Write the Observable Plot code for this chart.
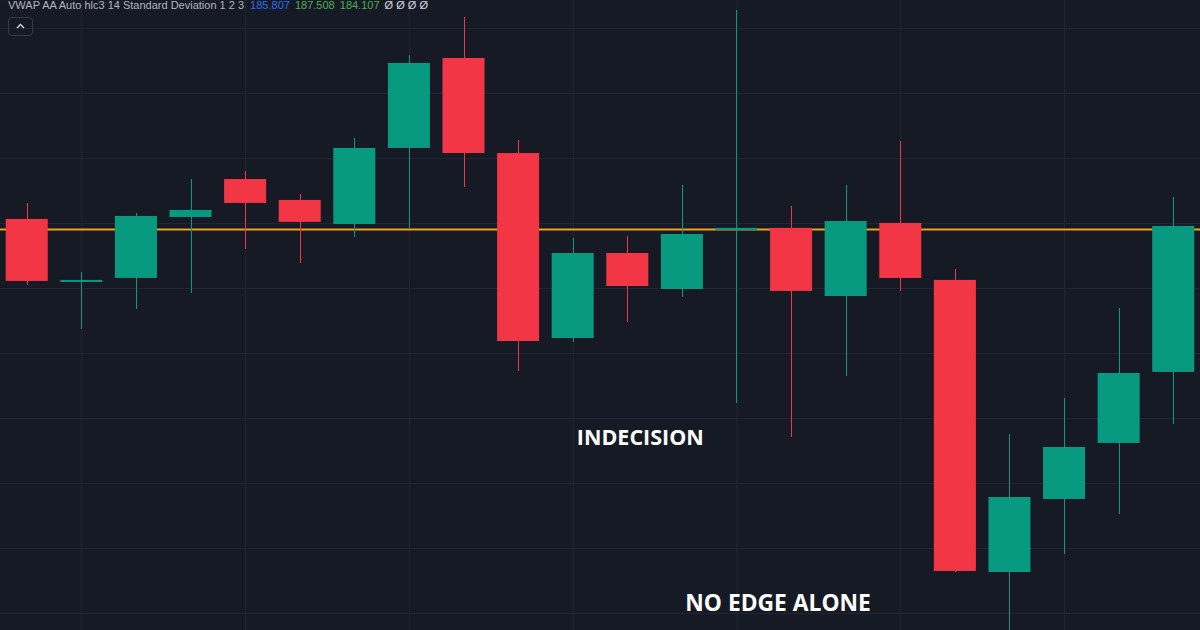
<!DOCTYPE html>
<html>
<head>
<meta charset="utf-8">
<script src="https://cdn.jsdelivr.net/npm/d3@7"></script>
<script src="https://cdn.jsdelivr.net/npm/@observablehq/plot@0.6"></script>
<style>
  html, body { margin: 0; padding: 0; background: #161a25; }
  #wrap { position: relative; width: 1200px; height: 630px; overflow: hidden; }
  #legend { position: absolute; left: 8px; top: 0px; font-family: "Liberation Sans", Arial, sans-serif; font-size: 11px; line-height: 11px; color: #b2b5be; white-space: pre; }
  #legend span { margin-left: 2px; }
  #legend .v1 { color: #2f6bf0; margin-left: 3px; }
  #legend .v2 { color: #4caf50; }
  #legend .v3 { color: #4caf50; }
  #legend .v4 { color: #d1d4dc; }
  #btn { position: absolute; left: 8px; top: 17px; width: 25px; height: 19px; border: 1px solid #363a45; border-radius: 4px; box-sizing: border-box; }
  #btn svg { display: block; }
</style>
</head>
<body>
<div id="wrap">
  <div id="chart"></div>
  <div id="legend"></div>
  <div id="btn"><svg width="23" height="17" viewBox="0 0 23 17"><path d="M8 10 L11.5 6.5 L15 10" fill="none" stroke="#d1d4dc" stroke-width="1.4"/></svg></div>
</div>
<script>
// ---- data ----
const candles = ["1","2","3","4","5","6","7","8","9","10","11","12","13","14","15","16","17","18","19","20","21","22"];
const open  = [186.031,185.546,185.577,186.046,186.338,186.177,185.992,186.577,187.269,186.538,185.115,185.769,185.492,185.946,185.962,185.438,186.000,185.562,183.315,183.877,184.308,184.854];
const high  = [186.154,185.623,186.077,186.338,186.400,186.223,186.654,187.292,187.585,186.638,185.885,185.900,186.292,187.638,186.131,186.292,186.631,185.646,184.377,184.654,185.346,186.200];
const low   = [185.523,185.185,185.338,185.462,185.800,185.692,185.892,185.962,186.277,184.862,185.085,185.238,185.431,184.615,184.354,184.823,185.477,183.315,182.792,183.454,183.762,184.454];
const close = [185.554,185.562,186.054,186.100,186.154,186.008,186.577,187.231,186.538,185.092,185.769,185.515,185.915,185.962,185.477,186.015,185.577,183.323,183.892,184.277,184.846,185.977];
const levelLine = [185.954];
const priceGrid = [183.0,183.5,184.0,184.5,185.0,185.5,186.0,186.5,187.0,187.5];
const timeGrid = ["2","5","8","11","14","17","20"];
const annotation1 = {t: "INDECISION", c: "12", p: 184.35};
const annotation2 = {t: "NO EDGE ALONE", c: "15", p: 183.075};
const legendName = "VWAP AA Auto hlc3 14 Standard Deviation 1 2 3";
const legendValues = ["185.807","187.508","184.107","\u00D8 \u00D8 \u00D8 \u00D8"];

const green = "#089981", red = "#f23645";
const data = candles.map((c, i) => ({c, o: open[i], h: high[i], l: low[i], cl: close[i]}));
const col = d => d.cl >= d.o ? green : red;
const textStyle = {x: "c", y: "p", text: "t", fill: "#ffffff", fontWeight: "bold", fontFamily: "Open Sans, Noto Sans, sans-serif", textAnchor: "middle", lineAnchor: "middle"};

const chart = Plot.plot({
  width: 1200,
  height: 630,
  margin: 0,
  style: {background: "#161a25", overflow: "visible"},
  x: {type: "band", domain: candles, paddingInner: 0.23, paddingOuter: 0.105, round: false, axis: null},
  y: {domain: [182.869, 187.715], axis: null},
  marks: [
    Plot.ruleY(priceGrid, {stroke: "#232735", strokeWidth: 1}),
    Plot.ruleX(timeGrid, {x: d => d, stroke: "#232735", strokeWidth: 1}),
    Plot.ruleY(levelLine, {stroke: "#eea21c", strokeWidth: 2}),
    Plot.ruleX(data, {x: "c", y1: "l", y2: "h", stroke: col, strokeWidth: 1, shapeRendering: "crispEdges"}),
    Plot.barY(data, {x: "c", y1: "o", y2: "cl", fill: col}),
    Plot.text([annotation1], {...textStyle, fontSize: 21.5, dx: 12.5}),
    Plot.text([annotation2], {...textStyle, fontSize: 22.8, dx: -13.5})
  ]
});
document.getElementById("chart").appendChild(chart);

const lg = document.getElementById("legend");
lg.innerHTML = legendName + " <span class='v1'>" + legendValues[0] + "</span> <span class='v2'>" + legendValues[1] + "</span> <span class='v3'>" + legendValues[2] + "</span> <span class='v4'>" + legendValues[3] + "</span>";
</script>
</body>
</html>
